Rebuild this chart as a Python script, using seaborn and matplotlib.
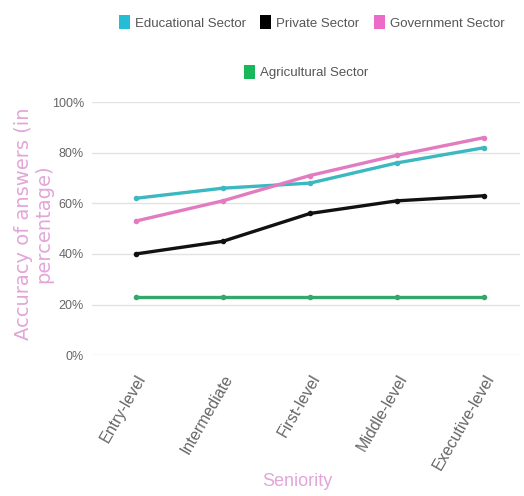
import matplotlib
matplotlib.use("Agg")
import matplotlib.pyplot as plt
import seaborn as sns
import pandas as pd
from matplotlib.patches import Patch

levels = ["Entry-level", "Intermediate", "First-level", "Middle-level", "Executive-level"]
educational = [62, 66, 68, 76, 82]
private = [40, 45, 56, 61, 63]
government = [53, 61, 71, 79, 86]
agricultural = [23, 23, 23, 23, 23]
series_names = ["Educational Sector", "Private Sector", "Government Sector", "Agricultural Sector"]
line_colors = ["#3bb8c0", "#111111", "#e27bbf", "#34a86a"]
legend_colors = ["#25bcd6", "#000000", "#ee6ac8", "#18b85a"]

sns.set_style("white")
plt.rcParams["font.family"] = ["Liberation Sans", "DejaVu Sans"]

rows = []
for name, vals in zip(series_names, [educational, private, government, agricultural]):
    for lv, v in zip(levels, vals):
        rows.append({"Seniority": lv, "value": v, "series": name})
df = pd.DataFrame(rows)

fig = plt.figure(figsize=(5.24, 4.96), dpi=100)
ax = fig.add_axes([0.176, 0.284, 0.816, 0.51])
sns.lineplot(data=df, x="Seniority", y="value", hue="series", hue_order=series_names,
             palette=dict(zip(series_names, line_colors)), marker="o", markersize=4,
             markeredgewidth=0, linewidth=2.4, ax=ax, legend=False, sort=False)
ax.set_ylim(0, 100)
ax.set_xlim(-0.5, 4.41)
ax.set_yticks([0, 20, 40, 60, 80, 100])
ax.set_yticklabels([f"{t}%" for t in [0, 20, 40, 60, 80, 100]])
ax.yaxis.grid(True, color="#e3e3e3", linewidth=1)
ax.set_axisbelow(True)
for s in ax.spines.values():
    s.set_visible(False)
ax.tick_params(axis="y", colors="#666666", labelsize=9, length=0, pad=6)
ax.tick_params(axis="x", colors="#666666", labelsize=11.5, length=0, pad=12)
plt.setp(ax.get_xticklabels(), rotation=60, ha="right", rotation_mode="anchor")
ax.set_xlabel("Seniority", color="#e2a6d8", fontsize=13, labelpad=0)
ax.xaxis.set_label_coords(0.48, -0.465)
ax.set_ylabel("Accuracy of answers (in\npercentage)", color="#e2a6d8", fontsize=14,
              family="DejaVu Sans", linespacing=1.05)
ax.yaxis.set_label_coords(-0.092, 0.52)

handles = [Patch(facecolor=c, edgecolor="none") for c in legend_colors]
fig.legend(handles[:3], series_names[:3], loc="center", bbox_to_anchor=(0.595, 0.955), ncol=3,
           frameon=False, fontsize=9.5, handletextpad=0.4, columnspacing=1.1, handlelength=0.8,
           handleheight=1.3, labelcolor="#555555")
fig.legend(handles[3:], series_names[3:], loc="center", bbox_to_anchor=(0.585, 0.855), ncol=1,
           frameon=False, fontsize=9.5, handletextpad=0.4, handlelength=0.8, handleheight=1.3,
           labelcolor="#555555")
fig.savefig("out.png", dpi=100, facecolor="white")
